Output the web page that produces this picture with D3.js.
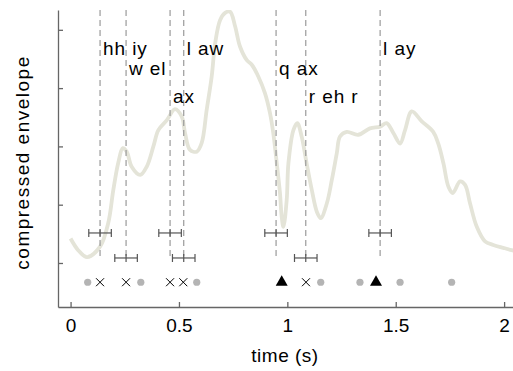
<!DOCTYPE html>
<html>
<head>
<meta charset="utf-8">
<script src="https://cdn.jsdelivr.net/npm/d3@7"></script>
<style>
  html, body { margin: 0; padding: 0; background: #fff; }
  svg { display: block; font-family: "Liberation Sans", Arial, sans-serif; }
</style>
</head>
<body>
<div id="chart"></div>
<script>
// envelope trace: time (s) and compressed envelope value
const envTime = [0.0, 0.035, 0.076, 0.136, 0.174, 0.197, 0.220, 0.241, 0.259, 0.282, 0.321, 0.351, 0.382, 0.405, 0.444, 0.482, 0.513, 0.528, 0.551, 0.582, 0.605, 0.628, 0.651, 0.667, 0.690, 0.713, 0.736, 0.759, 0.782, 0.813, 0.836, 0.866, 0.897, 0.920, 0.935, 0.951, 0.966, 0.974, 0.982, 0.997, 1.005, 1.028, 1.046, 1.066, 1.089, 1.113, 1.136, 1.154, 1.182, 1.205, 1.228, 1.243, 1.274, 1.327, 1.381, 1.428, 1.458, 1.489, 1.520, 1.543, 1.574, 1.620, 1.673, 1.696, 1.720, 1.743, 1.763, 1.797, 1.820, 1.843, 1.874, 1.912, 1.950, 1.996, 2.035, 2.06];
const envValue = [1.42, 1.22, 1.10, 1.28, 1.69, 2.25, 2.72, 2.97, 2.91, 2.65, 2.51, 2.65, 3.00, 3.28, 3.45, 3.64, 3.51, 3.23, 2.94, 2.91, 3.06, 3.63, 4.20, 4.77, 5.17, 5.29, 5.31, 5.06, 4.71, 4.48, 4.40, 4.20, 3.91, 3.57, 3.23, 2.72, 2.20, 1.79, 1.62, 2.08, 2.71, 3.28, 3.40, 3.17, 2.71, 2.25, 1.88, 1.77, 2.02, 2.42, 2.88, 3.17, 3.25, 3.20, 3.31, 3.34, 3.40, 3.23, 3.05, 3.28, 3.60, 3.43, 3.25, 3.05, 2.71, 2.31, 2.20, 2.40, 2.34, 2.02, 1.62, 1.37, 1.31, 1.26, 1.22, 1.20];

// boundaries (dashed lines) with their phoneme labels
const boundTime = [0.136, 0.256, 0.459, 0.522, 0.948, 1.085, 1.428];
const boundLabel = ["hh iy", "w el", "ax", "l aw", "q ax", "r eh r", "l ay"];
const labelLevel = [4.57, 4.23, 3.75, 4.57, 4.22, 3.75, 4.57];
const barLevel = [1.515, 1.086, 1.515, 1.086, 1.515, 1.086, 1.515];
const barHalfWidth = 0.052;

// detected events
const dotTime = [0.079, 0.324, 0.582, 1.154, 1.335, 1.520, 1.758];
const crossTime = [0.136, 0.256, 0.459, 0.520, 1.086];
const triTime = [0.974, 1.409];
const markerLevel = 0.67;

const xTicks = [0, 0.5, 1, 1.5, 2];
const yTicks = [1, 2, 3, 4, 5];

const width = 513, height = 371;
const mLeft = 58, mRight = 513, mTop = 10, mBottom = 307;

const x = d3.scaleLinear().domain([-0.058, 2.041]).range([mLeft, mRight]);
const y = d3.scaleLinear().domain([0.245, 5.34]).range([mBottom, mTop]);

const svg = d3.select("#chart").append("svg")
    .attr("width", width)
    .attr("height", height);

svg.append("defs").append("clipPath").attr("id", "plotclip")
    .append("rect")
    .attr("x", mLeft).attr("y", mTop)
    .attr("width", mRight - mLeft).attr("height", mBottom - mTop);

// envelope
const env = envTime.map((t, i) => [t, envValue[i]]);
svg.append("path")
    .attr("clip-path", "url(#plotclip)")
    .attr("fill", "none")
    .attr("stroke", "#e4e4d8")
    .attr("stroke-width", 3.8)
    .attr("stroke-linejoin", "round")
    .attr("d", d3.line().x(d => x(d[0])).y(d => y(d[1])).curve(d3.curveCatmullRom)(env));

// dashed boundaries
svg.append("g").selectAll("line")
    .data(boundTime)
    .join("line")
    .attr("x1", d => x(d)).attr("x2", d => x(d))
    .attr("y1", y(5.34)).attr("y2", y(1.12))
    .attr("stroke", "#9a9a9a")
    .attr("stroke-width", 1.2)
    .attr("stroke-dasharray", "6,4");

// labels
svg.append("g").selectAll("text")
    .data(boundTime)
    .join("text")
    .attr("x", d => x(d) + 3)
    .attr("y", (d, i) => y(labelLevel[i]))
    .attr("font-size", 19)
    .attr("letter-spacing", 0.9)
    .attr("fill", "#000")
    .text((d, i) => boundLabel[i]);

// error bars
const bars = svg.append("g")
    .attr("stroke", "#555")
    .attr("stroke-width", 1.2)
    .selectAll("g")
    .data(boundTime)
    .join("g");
bars.append("line")
    .attr("x1", d => x(d - barHalfWidth)).attr("x2", d => x(d + barHalfWidth))
    .attr("y1", (d, i) => y(barLevel[i])).attr("y2", (d, i) => y(barLevel[i]));
bars.append("line")
    .attr("x1", d => x(d - barHalfWidth)).attr("x2", d => x(d - barHalfWidth))
    .attr("y1", (d, i) => y(barLevel[i]) - 4).attr("y2", (d, i) => y(barLevel[i]) + 4);
bars.append("line")
    .attr("x1", d => x(d + barHalfWidth)).attr("x2", d => x(d + barHalfWidth))
    .attr("y1", (d, i) => y(barLevel[i]) - 4).attr("y2", (d, i) => y(barLevel[i]) + 4);
bars.append("line")
    .attr("x1", d => x(d)).attr("x2", d => x(d))
    .attr("y1", (d, i) => y(barLevel[i]) - 4).attr("y2", (d, i) => y(barLevel[i]) + 4);

// markers
svg.append("g").selectAll("circle")
    .data(dotTime)
    .join("circle")
    .attr("cx", d => x(d))
    .attr("cy", y(markerLevel))
    .attr("r", 3.6)
    .attr("fill", "#b4b4b4");

svg.append("g").selectAll("path")
    .data(crossTime)
    .join("path")
    .attr("transform", d => `translate(${x(d)},${y(markerLevel)})`)
    .attr("d", "M-4,-4L4,4M-4,4L4,-4")
    .attr("stroke", "#000")
    .attr("stroke-width", 1);

svg.append("g").selectAll("path")
    .data(triTime)
    .join("path")
    .attr("transform", d => `translate(${x(d)},${y(markerLevel)})`)
    .attr("d", d3.symbol(d3.symbolTriangle, 62))
    .attr("fill", "#000");

// axes
const xAxis = svg.append("g")
    .attr("transform", `translate(0,${mBottom})`)
    .call(d3.axisBottom(x).tickValues(xTicks).tickFormat(d3.format("")).tickSizeInner(-5).tickSizeOuter(0).tickPadding(12));
const yAxis = svg.append("g")
    .attr("transform", `translate(${mLeft},0)`)
    .call(d3.axisLeft(y).tickValues(yTicks).tickFormat("").tickSizeInner(-5).tickSizeOuter(0));

[xAxis, yAxis].forEach(a => {
    a.select(".domain").attr("stroke", "#666").attr("stroke-width", 1.3);
    a.selectAll(".tick line").attr("stroke", "#666").attr("stroke-width", 1.3);
    a.selectAll("text").attr("font-size", 19).attr("fill", "#000")
        .attr("font-family", "'Liberation Sans', Arial, sans-serif");
});
xAxis.selectAll("text").attr("dy", "0.71em");

svg.append("text")
    .attr("x", 285)
    .attr("y", 362)
    .attr("text-anchor", "middle")
    .attr("font-size", 19)
    .attr("letter-spacing", 0.5)
    .text("time (s)");

svg.append("text")
    .attr("transform", `translate(29,${(mTop + mBottom) / 2 + 4}) rotate(-90)`)
    .attr("text-anchor", "middle")
    .attr("font-size", 19)
    .attr("letter-spacing", 1.5)
    .text("compressed envelope");
</script>
</body>
</html>
